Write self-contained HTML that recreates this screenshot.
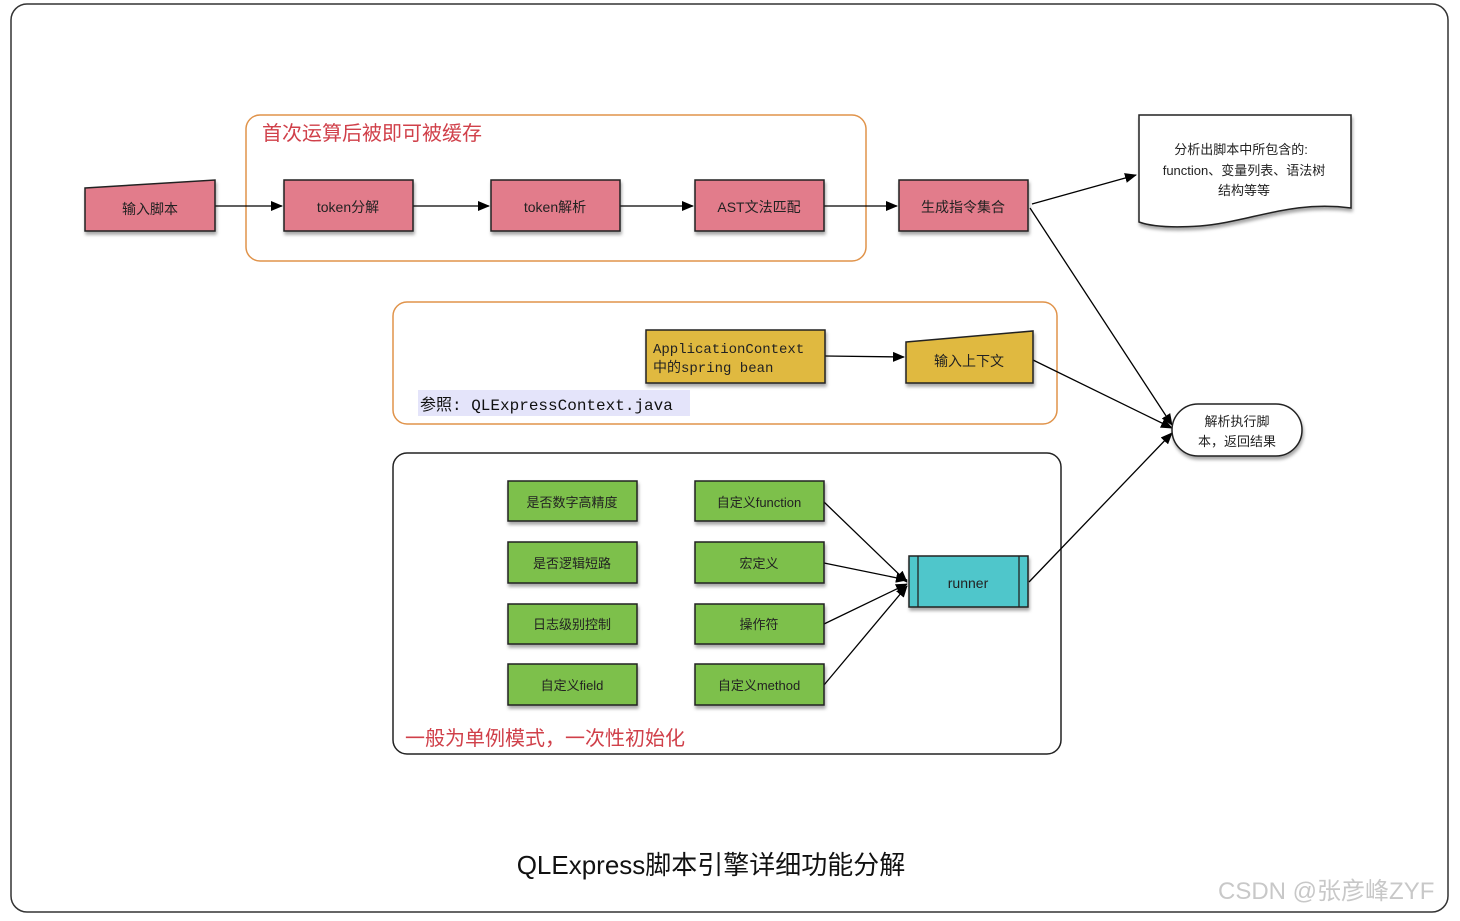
<!DOCTYPE html>
<html><head><meta charset="utf-8"><style>
body{margin:0;background:#fff;width:1460px;height:916px;overflow:hidden}
svg text{font-family:"Liberation Sans","Noto Sans CJK SC",sans-serif}
</style></head><body>
<svg width="1460" height="916" viewBox="0 0 1460 916" xmlns="http://www.w3.org/2000/svg">
<defs>
<marker id="a" markerWidth="12" markerHeight="10" refX="11" refY="5" orient="auto" markerUnits="userSpaceOnUse"><path d="M0,0 L12,5 L0,10 z" fill="#000"/></marker>
<filter id="s" x="-10%" y="-10%" width="130%" height="140%"><feDropShadow dx="1" dy="3" stdDeviation="1.5" flood-color="#000" flood-opacity="0.35"/></filter>
</defs>
<rect x="11" y="4" width="1437" height="908" rx="16" fill="#fff" stroke="#333" stroke-width="1.5"/>
<!-- group boxes -->
<rect x="246" y="115" width="620" height="146" rx="14" fill="none" stroke="#e0934a" stroke-width="1.5"/>
<text x="262" y="140" font-size="20" fill="#d0404a">首次运算后被即可被缓存</text>
<rect x="393" y="302" width="664" height="122" rx="14" fill="none" stroke="#e0934a" stroke-width="1.5"/>
<rect x="393" y="453" width="668" height="301" rx="14" fill="none" stroke="#222" stroke-width="1.5"/>
<text x="405" y="745" font-size="20" fill="#d0404a">一般为单例模式，一次性初始化</text>
<rect x="418" y="390" width="272" height="26" fill="#e4e4fa"/>
<text x="420" y="410" font-size="16" fill="#111" font-family="Liberation Mono,Noto Sans CJK SC,monospace" style="font-family:'Liberation Mono','Noto Sans CJK SC',monospace">参照: QLExpressContext.java</text>
<!-- connectors -->
<g stroke="#000" stroke-width="1.3" fill="none">
<line x1="215" y1="206" x2="282" y2="206" marker-end="url(#a)"/>
<line x1="413" y1="206" x2="489" y2="206" marker-end="url(#a)"/>
<line x1="620" y1="206" x2="693" y2="206" marker-end="url(#a)"/>
<line x1="824" y1="206" x2="897" y2="206" marker-end="url(#a)"/>
<line x1="1032" y1="204" x2="1136" y2="175" marker-end="url(#a)"/>
<line x1="1030" y1="208" x2="1172" y2="425" marker-end="url(#a)"/>
<line x1="825" y1="356" x2="904" y2="357" marker-end="url(#a)"/>
<line x1="1033" y1="360" x2="1172" y2="428" marker-end="url(#a)"/>
<line x1="1029" y1="582" x2="1172" y2="433" marker-end="url(#a)"/>
<line x1="824" y1="502" x2="907" y2="582" marker-end="url(#a)"/>
<line x1="824" y1="563" x2="907" y2="580" marker-end="url(#a)"/>
<line x1="824" y1="624" x2="907" y2="584" marker-end="url(#a)"/>
<line x1="824" y1="685" x2="907" y2="586" marker-end="url(#a)"/>
</g>
<!-- pink -->
<g stroke="#222" stroke-width="1.5" fill="#e27b8b" filter="url(#s)">
<path d="M85,188 L215,180 L215,231 L85,231 z"/>
<rect x="284" y="180" width="129" height="51"/>
<rect x="491" y="180" width="129" height="51"/>
<rect x="695" y="180" width="129" height="51"/>
<rect x="899" y="180" width="129" height="51"/>
</g>
<g font-size="14" fill="#222" text-anchor="middle">
<text x="150" y="214">输入脚本</text>
<text x="348" y="212">token分解</text>
<text x="555" y="212">token解析</text>
<text x="759" y="212">AST文法匹配</text>
<text x="963" y="212">生成指令集合</text>
</g>
<!-- document -->
<path d="M1139,115 L1351,115 L1351,208 C1290,200 1250,222 1200,226 C1170,228 1150,226 1139,222 z" fill="#fff" stroke="#222" stroke-width="1.5" filter="url(#s)"/>
<g font-size="13" fill="#222" text-anchor="middle">
<text x="1241" y="154">分析出脚本中所包含的:</text>
<text x="1244" y="175">function、变量列表、语法树</text>
<text x="1244" y="195">结构等等</text>
</g>
<!-- yellow -->
<g stroke="#222" stroke-width="1.5" fill="#e0b940" filter="url(#s)">
<rect x="646" y="330" width="179" height="53"/>
<path d="M906,342 L1033,331 L1033,383 L906,383 z"/>
</g>
<text x="653" y="353" font-size="14" fill="#222" style="font-family:'Liberation Mono','Noto Sans CJK SC',monospace">ApplicationContext</text>
<text x="653" y="372" font-size="14" fill="#222" style="font-family:'Liberation Mono','Noto Sans CJK SC',monospace">中的spring bean</text>
<text x="969" y="366" font-size="14" fill="#222" text-anchor="middle">输入上下文</text>
<!-- terminal -->
<rect x="1172" y="404" width="130" height="52" rx="26" fill="#fff" stroke="#222" stroke-width="1.5" filter="url(#s)"/>
<text x="1237" y="426" font-size="13" fill="#222" text-anchor="middle">解析执行脚</text>
<text x="1237" y="446" font-size="13" fill="#222" text-anchor="middle">本，返回结果</text>
<!-- green -->
<g stroke="#222" stroke-width="1.5" fill="#7dc04b" filter="url(#s)">
<rect x="508" y="481" width="129" height="40"/><rect x="695" y="481" width="129" height="40"/>
<rect x="508" y="542" width="129" height="41"/><rect x="695" y="542" width="129" height="41"/>
<rect x="508" y="604" width="129" height="40"/><rect x="695" y="604" width="129" height="40"/>
<rect x="508" y="664" width="129" height="41"/><rect x="695" y="664" width="129" height="41"/>
</g>
<g font-size="13" fill="#222" text-anchor="middle">
<text x="572" y="507">是否数字高精度</text><text x="759" y="507">自定义function</text>
<text x="572" y="568">是否逻辑短路</text><text x="759" y="568">宏定义</text>
<text x="572" y="629">日志级别控制</text><text x="759" y="629">操作符</text>
<text x="572" y="690">自定义field</text><text x="759" y="690">自定义method</text>
</g>
<!-- runner -->
<rect x="909" y="556" width="119" height="51" fill="#4fc6cb" stroke="#222" stroke-width="1.5" filter="url(#s)"/>
<line x1="918" y1="556" x2="918" y2="607" stroke="#222" stroke-width="1.3"/>
<line x1="1019" y1="556" x2="1019" y2="607" stroke="#222" stroke-width="1.3"/>
<text x="968" y="588" font-size="14" fill="#222" text-anchor="middle">runner</text>
<!-- title -->
<text x="711" y="874" font-size="26" fill="#111" text-anchor="middle">QLExpress脚本引擎详细功能分解</text>
<text x="1218" y="899" font-size="24" fill="#bbb" opacity="0.8">CSDN @张彦峰ZYF</text>
</svg>
</body></html>
